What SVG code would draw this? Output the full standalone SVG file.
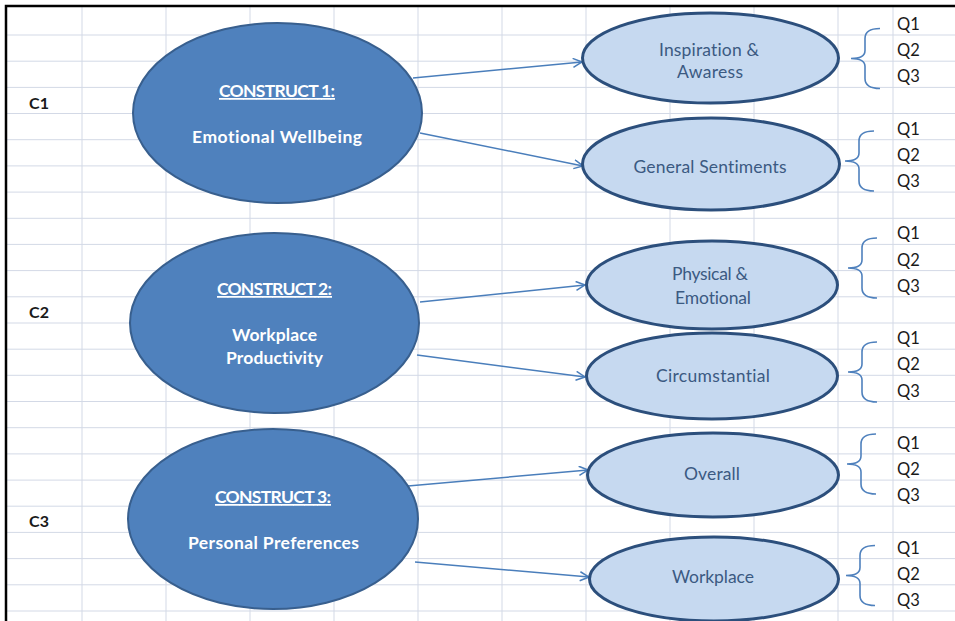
<svg xmlns="http://www.w3.org/2000/svg" width="955" height="621" viewBox="0 0 955 621">
  <defs>
    <style>
      text { font-variant-ligatures: none; }
      .grid line { stroke: #d3d9e6; stroke-width: 1; }
      .frame { stroke: #000; stroke-width: 2.5; fill: none; }
      .big { fill: #4f81bd; stroke: #385f8e; stroke-width: 2; }
      .small { fill: #c6d9f0; stroke: #2c4f7c; stroke-width: 3; }
      .bigtxt { font-family: Lato, "Liberation Sans", sans-serif; font-weight: bold; font-size: 17.5px; fill: #ffffff; text-anchor: middle; }
      .smalltxt { font-family: Lato, "Liberation Sans", sans-serif; font-size: 17.5px; fill: #3b5a82; text-anchor: middle; }
      .cell { font-family: Lato, "Liberation Sans", sans-serif; font-size: 16.5px; fill: #1a1a1a; }
      .cellb { font-family: Lato, "Liberation Sans", sans-serif; font-size: 16px; font-weight: bold; fill: #1a1a1a; }
      .conn { stroke: #4a7ebb; stroke-width: 1.5; fill: none; }
      .brace { stroke: #4f81bd; stroke-width: 1.6; fill: none; }
    </style>
    <marker id="arrow" markerUnits="userSpaceOnUse" markerWidth="12" markerHeight="12" refX="10" refY="5" orient="auto">
      <path d="M1,0.5 L10,5 L1,9.5" fill="none" stroke="#4a7ebb" stroke-width="1.5"/>
    </marker>
    <!-- left curly brace, tip at origin -->
    <path id="brace" d="M29,-30 Q14,-30 14,-20 L14,-8 Q14,0 0,0 Q14,0 14,8 L14,20 Q14,30 29,30"/>
  </defs>

  <rect width="955" height="621" fill="#ffffff"/>

  <!-- spreadsheet grid -->
  <g class="grid">
    <line x1="82" y1="7" x2="82" y2="621"/>
    <line x1="166" y1="7" x2="166" y2="621"/>
    <line x1="250" y1="7" x2="250" y2="621"/>
    <line x1="334" y1="7" x2="334" y2="621"/>
    <line x1="418" y1="7" x2="418" y2="621"/>
    <line x1="502" y1="7" x2="502" y2="621"/>
    <line x1="586" y1="7" x2="586" y2="621"/>
    <line x1="670" y1="7" x2="670" y2="621"/>
    <line x1="754" y1="7" x2="754" y2="621"/>
    <line x1="838" y1="7" x2="838" y2="621"/>
    <line x1="893" y1="7" x2="893" y2="621"/>
    <line x1="7" y1="35" x2="955" y2="35"/>
    <line x1="7" y1="61.2" x2="955" y2="61.2"/>
    <line x1="7" y1="87.4" x2="955" y2="87.4"/>
    <line x1="7" y1="113.5" x2="955" y2="113.5"/>
    <line x1="7" y1="139.7" x2="955" y2="139.7"/>
    <line x1="7" y1="165.9" x2="955" y2="165.9"/>
    <line x1="7" y1="192.1" x2="955" y2="192.1"/>
    <line x1="7" y1="218.3" x2="955" y2="218.3"/>
    <line x1="7" y1="244.4" x2="955" y2="244.4"/>
    <line x1="7" y1="270.6" x2="955" y2="270.6"/>
    <line x1="7" y1="296.8" x2="955" y2="296.8"/>
    <line x1="7" y1="323" x2="955" y2="323"/>
    <line x1="7" y1="349.2" x2="955" y2="349.2"/>
    <line x1="7" y1="375.3" x2="955" y2="375.3"/>
    <line x1="7" y1="401.5" x2="955" y2="401.5"/>
    <line x1="7" y1="427.7" x2="955" y2="427.7"/>
    <line x1="7" y1="453.9" x2="955" y2="453.9"/>
    <line x1="7" y1="480.1" x2="955" y2="480.1"/>
    <line x1="7" y1="506.2" x2="955" y2="506.2"/>
    <line x1="7" y1="532.4" x2="955" y2="532.4"/>
    <line x1="7" y1="558.6" x2="955" y2="558.6"/>
    <line x1="7" y1="584.8" x2="955" y2="584.8"/>
    <line x1="7" y1="611" x2="955" y2="611"/>
  </g>

  <!-- frame edges -->
  <path class="frame" d="M6,621 L6,6 L955,6"/>

  <!-- row labels -->
  <g id="row-labels">
    <text class="cellb" x="29" y="108.5" textLength="20">C1</text>
    <text class="cellb" x="29" y="318" textLength="20">C2</text>
    <text class="cellb" x="29" y="527.4" textLength="20">C3</text>
  </g>

  <!-- connectors -->
  <g id="connectors">
    <line class="conn" x1="413" y1="78" x2="582" y2="62" marker-end="url(#arrow)"/>
    <line class="conn" x1="420" y1="133" x2="583" y2="166" marker-end="url(#arrow)"/>
    <line class="conn" x1="420" y1="302" x2="585" y2="285" marker-end="url(#arrow)"/>
    <line class="conn" x1="417" y1="355" x2="585" y2="377" marker-end="url(#arrow)"/>
    <line class="conn" x1="408" y1="486" x2="588" y2="470" marker-end="url(#arrow)"/>
    <line class="conn" x1="415" y1="562" x2="589" y2="577" marker-end="url(#arrow)"/>
  </g>

  <!-- constructs -->
  <g id="construct1">
    <ellipse class="big" cx="277.5" cy="113" rx="144.5" ry="90"/>
    <text class="bigtxt" x="277" y="97" textLength="116" text-decoration="underline">CONSTRUCT 1:</text>
    <text class="bigtxt" x="277" y="143" textLength="170">Emotional Wellbeing</text>
  </g>
  <g id="construct2">
    <ellipse class="big" cx="274.5" cy="323" rx="144.5" ry="90"/>
    <text class="bigtxt" x="274.5" y="295" textLength="115" text-decoration="underline">CONSTRUCT 2:</text>
    <text class="bigtxt" x="274.5" y="341" textLength="85">Workplace</text>
    <text class="bigtxt" x="274.5" y="364" textLength="97">Productivity</text>
  </g>
  <g id="construct3">
    <ellipse class="big" cx="273" cy="519" rx="145" ry="90"/>
    <text class="bigtxt" x="273" y="503" textLength="116" text-decoration="underline">CONSTRUCT 3:</text>
    <text class="bigtxt" x="273.5" y="549" textLength="171">Personal Preferences</text>
  </g>

  <!-- sub-dimensions -->
  <g id="inspiration">
    <ellipse class="small" cx="710.5" cy="58" rx="128" ry="45"/>
    <text class="smalltxt" x="709" y="56" textLength="100">Inspiration &amp;</text>
    <text class="smalltxt" x="710" y="78" textLength="66">Awaress</text>
  </g>
  <g id="general-sentiments">
    <ellipse class="small" cx="711" cy="164" rx="128.5" ry="46"/>
    <text class="smalltxt" x="710" y="173" textLength="153">General Sentiments</text>
  </g>
  <g id="physical-emotional">
    <ellipse class="small" cx="712" cy="285" rx="125.5" ry="44"/>
    <text class="smalltxt" x="710" y="280" textLength="76">Physical &amp;</text>
    <text class="smalltxt" x="713" y="304" textLength="76">Emotional</text>
  </g>
  <g id="circumstantial">
    <ellipse class="small" cx="712" cy="376" rx="125.5" ry="43"/>
    <text class="smalltxt" x="713" y="382" textLength="114">Circumstantial</text>
  </g>
  <g id="overall">
    <ellipse class="small" cx="713" cy="475" rx="125.5" ry="42"/>
    <text class="smalltxt" x="712" y="480" textLength="56">Overall</text>
  </g>
  <g id="workplace">
    <ellipse class="small" cx="714" cy="579" rx="124.5" ry="42"/>
    <text class="smalltxt" x="713" y="583" textLength="82">Workplace</text>
  </g>

  <!-- item groups -->
  <g id="items1">
    <use href="#brace" class="brace" transform="translate(851,58.5)"/>
    <text class="cell" x="897" y="30">Q1</text>
    <text class="cell" x="897" y="56.2">Q2</text>
    <text class="cell" x="897" y="82.4">Q3</text>
  </g>
  <g id="items2">
    <use href="#brace" class="brace" transform="translate(845,161)"/>
    <text class="cell" x="897" y="134.7">Q1</text>
    <text class="cell" x="897" y="160.9">Q2</text>
    <text class="cell" x="897" y="187.1">Q3</text>
  </g>
  <g id="items3">
    <use href="#brace" class="brace" transform="translate(848,268)"/>
    <text class="cell" x="897" y="239.4">Q1</text>
    <text class="cell" x="897" y="265.6">Q2</text>
    <text class="cell" x="897" y="291.8">Q3</text>
  </g>
  <g id="items4">
    <use href="#brace" class="brace" transform="translate(848,372)"/>
    <text class="cell" x="897" y="344.2">Q1</text>
    <text class="cell" x="897" y="370.3">Q2</text>
    <text class="cell" x="897" y="396.5">Q3</text>
  </g>
  <g id="items5">
    <use href="#brace" class="brace" transform="translate(847,464)"/>
    <text class="cell" x="897" y="448.9">Q1</text>
    <text class="cell" x="897" y="475.1">Q2</text>
    <text class="cell" x="897" y="501.2">Q3</text>
  </g>
  <g id="items6">
    <use href="#brace" class="brace" transform="translate(846,575.5)"/>
    <text class="cell" x="897" y="553.6">Q1</text>
    <text class="cell" x="897" y="579.8">Q2</text>
    <text class="cell" x="897" y="606">Q3</text>
  </g>
</svg>
